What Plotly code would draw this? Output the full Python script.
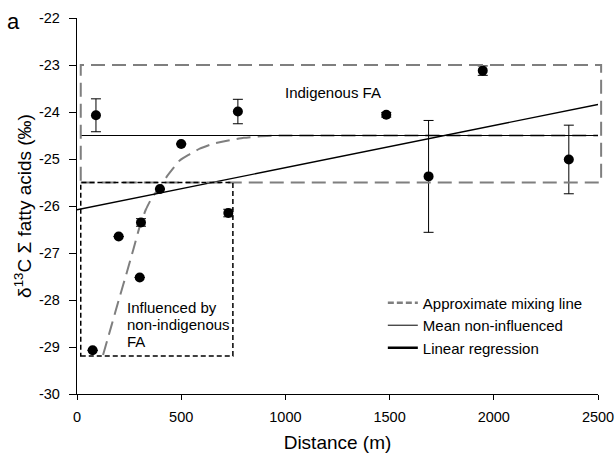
import plotly.graph_objects as go

# ---- data ----
dist = [75, 91, 200, 301, 307, 398, 500, 726, 772, 1484, 1687, 1947, 2360]
d13c = [-29.07, -24.07, -26.65, -27.52, -26.35, -25.64, -24.68, -26.15, -23.99, -24.06, -25.37, -23.12, -25.01]
err = [0.0, 0.35, 0.0, 0.0, 0.08, 0.0, 0.0, 0.08, 0.26, 0.05, 1.19, 0.10, 0.73]

mix_x = [125, 165, 205, 240, 270, 300, 330, 360, 397, 430, 465, 493, 540, 589, 650, 732, 800, 870, 972, 1200, 1600, 2000, 2500]
mix_y = [-29.17, -28.55, -27.93, -27.4, -26.93, -26.45, -26.08, -25.82, -25.6, -25.38, -25.18, -25.03, -24.9, -24.78, -24.68, -24.6, -24.55, -24.52, -24.5, -24.5, -24.5, -24.5, -24.5]

mean_x = [18, 2500]
mean_y = [-24.5, -24.5]

reg_x = [0, 2500]
reg_y = [-26.08, -23.84]

indig_box_x = [18, 2515]
indig_box_y = [-25.5, -23.0]
infl_box_x = [18, 748]
infl_box_y = [-29.19, -25.5]

x_range = [0, 2500]
y_range = [-30, -22]
x_ticks = [0, 500, 1000, 1500, 2000, 2500]
y_ticks = [-30, -29, -28, -27, -26, -25, -24, -23, -22]
y_tick_text = ["-30", "-29", "-28", "-27", "-26", "-25", "-24", "-23", "-22"]

legend_names = ["Approximate mixing line", "Mean non-influenced", "Linear regression"]
influenced_lines = ["Influenced by", "non-indigenous", "FA"]
influenced_y = [-28.16, -28.52, -28.89]

FONT = "Liberation Sans, Arial, sans-serif"
GRAY = "#7f7f7f"


def px_x(v):
    return (v - x_range[0]) / (x_range[1] - x_range[0])


def px_y(v):
    return (v - y_range[0]) / (y_range[1] - y_range[0])


fig = go.Figure()

fig.add_shape(type="rect", xref="paper", yref="paper",
              x0=px_x(indig_box_x[0]), x1=px_x(indig_box_x[1]),
              y0=px_y(indig_box_y[0]), y1=px_y(indig_box_y[1]),
              line=dict(color=GRAY, width=2, dash="14px,7px"), layer="above")
fig.add_shape(type="rect", xref="paper", yref="paper",
              x0=px_x(infl_box_x[0]), x1=px_x(infl_box_x[1]),
              y0=px_y(infl_box_y[0]), y1=px_y(infl_box_y[1]),
              line=dict(color="black", width=1.5, dash="5px,3px"), layer="above")

fig.add_trace(go.Scatter(x=mix_x, y=mix_y, mode="lines", showlegend=False,
                         line=dict(color=GRAY, width=2, dash="14px,7px", shape="spline", smoothing=0.5)))
fig.add_trace(go.Scatter(x=mean_x, y=mean_y, mode="lines", showlegend=False,
                         line=dict(color="black", width=1)))
fig.add_trace(go.Scatter(x=reg_x, y=reg_y, mode="lines", showlegend=False,
                         line=dict(color="black", width=1.3)))

fig.add_trace(go.Scatter(
    x=dist, y=d13c, mode="markers", showlegend=False,
    marker=dict(color="black", size=10),
    error_y=dict(type="data", array=err, visible=True, color="black", thickness=1, width=5),
))

fig.add_trace(go.Scatter(x=[None], y=[None], mode="lines", name=legend_names[0],
                         line=dict(color=GRAY, width=2.5, dash="6px,3px")))
fig.add_trace(go.Scatter(x=[None], y=[None], mode="lines", name=legend_names[1],
                         line=dict(color="black", width=1)))
fig.add_trace(go.Scatter(x=[None], y=[None], mode="lines", name=legend_names[2],
                         line=dict(color="black", width=2.5)))

fig.add_annotation(x=1229, y=-23.59, text="Indigenous FA", showarrow=False,
                   font=dict(size=15, color="black", family=FONT))
for txt, yy in zip(influenced_lines, influenced_y):
    fig.add_annotation(x=230, y=yy, text=txt, showarrow=False, xanchor="left",
                       font=dict(size=15, color="black", family=FONT))
fig.add_annotation(xref="paper", yref="paper", x=-0.121, y=0.99, text="a", showarrow=False,
                   xanchor="center", yanchor="middle", font=dict(size=22, color="black", family=FONT))

fig.update_layout(
    width=616, height=455,
    margin=dict(l=77, r=18, t=18, b=61, autoexpand=False),
    paper_bgcolor="white", plot_bgcolor="white",
    font=dict(family=FONT, color="black"),
    showlegend=True,
    legend=dict(x=0.587, y=0.286, xanchor="left", yanchor="top",
                bgcolor="rgba(0,0,0,0)", font=dict(size=15, family=FONT),
                tracegroupgap=0, itemwidth=30),
    xaxis=dict(range=x_range, tickvals=x_ticks, showgrid=False, zeroline=False,
               showline=True, linecolor="black", linewidth=1.3, automargin=False,
               ticks="outside", ticklen=5, tickcolor="black", tickwidth=1.3,
               tickfont=dict(size=14.5), ticklabelstandoff=4,
               title=dict(text="Distance (m)", font=dict(size=19), standoff=12)),
    yaxis=dict(range=y_range, tickvals=y_ticks, ticktext=y_tick_text, showgrid=False, zeroline=False,
               showline=True, linecolor="black", linewidth=1.3, automargin=True,
               ticks="outside", ticklen=7, tickcolor="black", tickwidth=1.3,
               tickfont=dict(size=14.5), ticklabelstandoff=6,
               title=dict(text="δ<sup>13</sup>C Σ fatty acids (‰)", font=dict(size=19), standoff=2)),
)

fig.write_html("out.html", config={"displayModeBar": False},
               post_script="document.body.style.margin='0';document.body.style.overflow='hidden';")
